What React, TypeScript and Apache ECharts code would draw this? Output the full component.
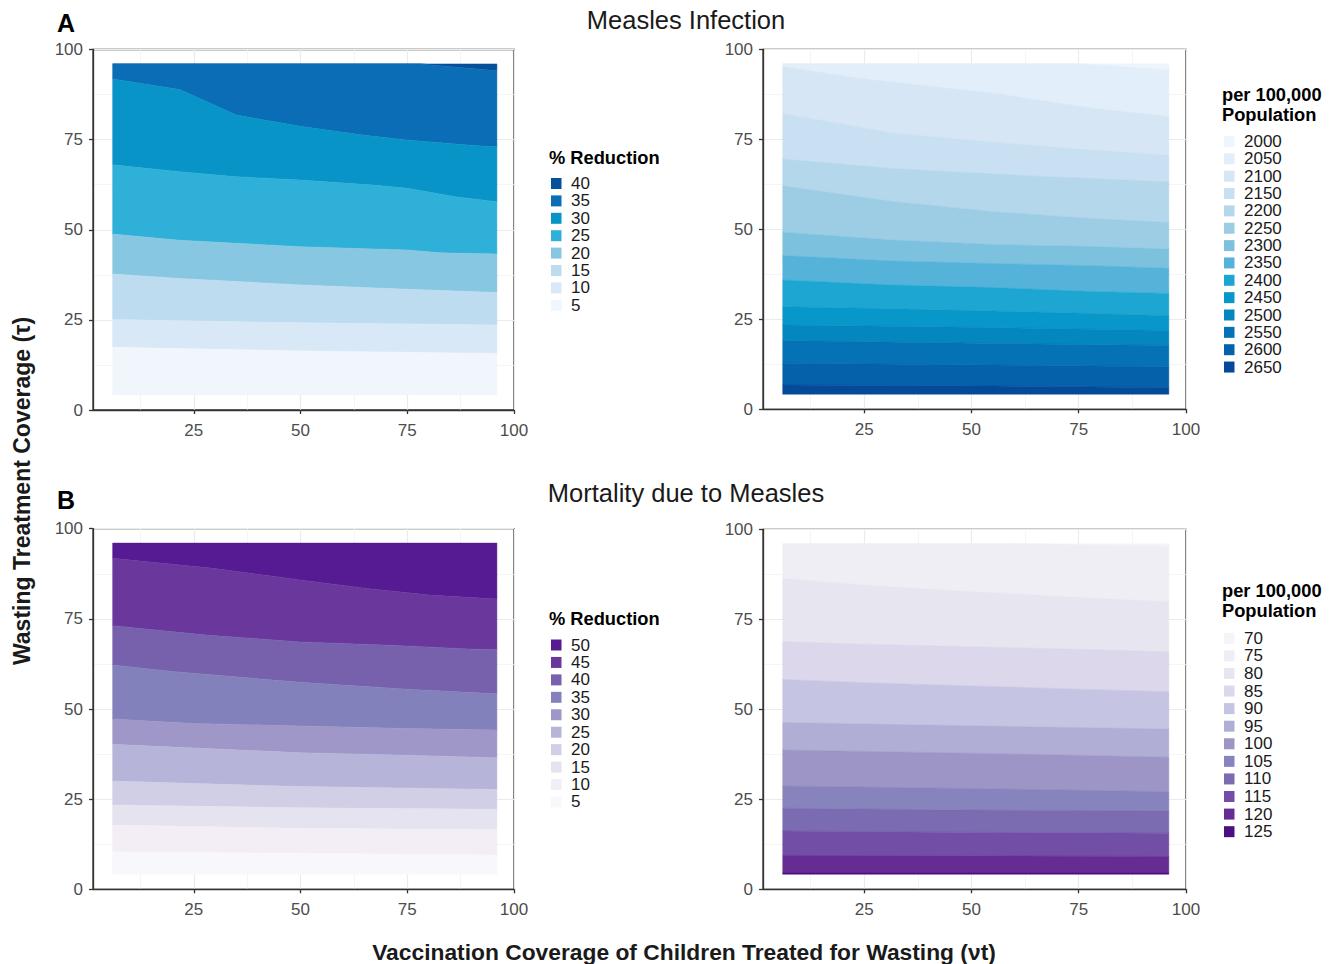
import React, { useEffect, useRef } from 'react';
import * as echarts from 'echarts';

type Pt = [number, number];

const FONT = '"Liberation Sans", Arial, Helvetica, sans-serif';

// Axis ticks
const X_TICKS = [25, 50, 75, 100];
const X_MINOR_TICKS = [12.5, 37.5, 62.5, 87.5];
const Y_TICK_INTERVAL = 25;
const X_MIN = 1.4;
const X_MAX = 100;
const Y_MIN = 0;
const Y_MAX = 100;
// lowest simulated wasting treatment coverage (bottom edge of every contour map)
const FLOOR_LINE: Pt[] = [[6, 4.2], [96, 4.2]];

// ---- Panel A (left): % reduction of measles infection ----
const infectionReductionLevels = ['40', '35', '30', '25', '20', '15', '10', '5'];
const infectionReductionColors = ['#064f9b', '#0a6db5', '#0994c7', '#2eb0d8', '#88c7e1', '#bddcf0', '#d9e8f6', '#f0f6fc'];
// contour boundaries, top first (upper edge of each band)
const infectionReductionBounds: Pt[][] = [
  [[6, 96], [96, 96]],
  [[6, 96], [78, 96], [96, 94.1]],
  [[6, 91.8], [21.7, 88.9], [35, 81.8], [50, 78.7], [65, 76.2], [75, 74.9], [90.5, 73.4], [96, 73.0]],
  [[6, 68.0], [21.7, 66.1], [35, 64.7], [50, 63.8], [67, 62.4], [75, 61.5], [86.6, 59.1], [96, 57.8]],
  [[6, 48.8], [21.7, 47.1], [50, 45.3], [75, 44.4], [82.7, 43.6], [96, 43.3]],
  [[6, 37.7], [21.7, 36.5], [50, 34.7], [75, 33.5], [96, 32.6]],
  [[6, 25.1], [50, 24.2], [96, 23.6]],
  [[6, 17.4], [50, 16.4], [96, 15.7]],
];

// ---- Panel A (right): measles infection per 100,000 ----
const infectionRateLevels = ['2000', '2050', '2100', '2150', '2200', '2250', '2300', '2350', '2400', '2450', '2500', '2550', '2600', '2650'];
const infectionRateColors = ['#eef5fc', '#e2eef9', '#d6e6f5', '#c8e0f1', '#b4d7ec', '#9dcde5', '#7cc2df', '#55b3da', '#1ea6d2', '#0797c9', '#0486be', '#0572b6', '#0461aa', '#044a98'];
const infectionRateBounds: Pt[][] = [
  [[6, 96], [96, 96]],
  [[6, 96], [74.6, 96], [96, 94.3]],
  [[6, 95.2], [24, 91.9], [55.1, 87.8], [78.4, 83.6], [96, 81.3]],
  [[6, 82.2], [31.8, 76.7], [55.1, 74.2], [78.4, 72.0], [96, 70.6]],
  [[6, 69.5], [31.8, 66.9], [62.9, 64.9], [96, 63.2]],
  [[6, 62.1], [31.8, 57.7], [55.1, 54.9], [78.4, 53.0], [96, 51.9]],
  [[6, 49.2], [31.8, 47.0], [55.1, 45.8], [78.4, 45.2], [96, 44.5]],
  [[6, 42.7], [31.8, 41.2], [55.1, 40.5], [78.4, 39.9], [96, 39.2]],
  [[6, 35.9], [31.8, 34.5], [55.1, 33.8], [78.4, 32.7], [96, 32.2]],
  [[6, 28.5], [31.8, 27.9], [55.1, 27.3], [78.4, 26.6], [96, 26.0]],
  [[6, 23.4], [55.1, 22.7], [96, 21.9]],
  [[6, 19.1], [55.1, 18.3], [96, 17.7]],
  [[6, 12.8], [55.1, 12.3], [96, 11.8]],
  [[6, 6.75], [55.1, 6.5], [96, 6.0]],
];

// ---- Panel B (left): % reduction of measles mortality ----
const mortalityReductionLevels = ['50', '45', '40', '35', '30', '25', '20', '15', '10', '5'];
const mortalityReductionColors = ['#561b92', '#6a389d', '#7761ad', '#8381bb', '#9e97c7', '#b6b4d9', '#d0cfe6', '#e5e3ef', '#f3eef5', '#f8f7fb'];
const mortalityReductionBounds: Pt[][] = [
  [[6, 96], [96, 96]],
  [[6, 91.8], [29.5, 89.0], [50, 85.8], [65, 83.5], [80.3, 81.6], [96, 80.5]],
  [[6, 73.1], [28, 70.5], [50, 68.6], [71, 67.7], [90.5, 66.6], [96, 66.5]],
  [[6, 62.2], [20, 60.4], [50, 57.4], [75, 55.5], [96, 54.2]],
  [[6, 47.2], [25, 46.0], [50, 45.3], [75, 44.6], [96, 44.2]],
  [[6, 40.2], [50, 37.9], [75, 37.2], [96, 36.5]],
  [[6, 30.0], [50, 28.5], [96, 27.7]],
  [[6, 23.4], [50, 22.6], [96, 22.2]],
  [[6, 17.8], [50, 16.9], [96, 16.5]],
  [[6, 10.4], [50, 10.0], [96, 9.5]],
];

// ---- Panel B (right): measles mortality per 100,000 ----
const mortalityRateLevels = ['70', '75', '80', '85', '90', '95', '100', '105', '110', '115', '120', '125'];
const mortalityRateColors = ['#f5f4f9', '#efeef5', '#e7e6f0', '#dcd7eb', '#c5c4e2', '#b0aed4', '#9c95c6', '#8783bd', '#7b6bb1', '#724ea6', '#652c93', '#4b0f82'];
const mortalityRateBounds: Pt[][] = [
  [[6, 96], [96, 96]],
  [[6, 96], [60, 96], [96, 95.3]],
  [[6, 86.4], [25, 84.5], [50, 82.7], [75, 81.1], [96, 79.9]],
  [[6, 68.8], [25, 68.1], [50, 67.4], [75, 66.7], [96, 66.0]],
  [[6, 58.3], [25, 57.4], [50, 56.5], [75, 55.6], [96, 54.9]],
  [[6, 46.3], [50, 45.4], [96, 44.5]],
  [[6, 38.7], [50, 37.8], [96, 36.7]],
  [[6, 28.7], [50, 28.0], [96, 27.1]],
  [[6, 22.5], [50, 22.0], [96, 21.8]],
  [[6, 16.2], [50, 15.8], [96, 15.6]],
  [[6, 9.4], [50, 9.3], [96, 9.1]],
  [[6, 4.5], [96, 4.5]],
];

const GRIDS = [
  { left: 93, top: 49.5, width: 421, height: 360.5 },
  { left: 763, top: 49.3, width: 423, height: 360 },
  { left: 93, top: 528.7, width: 421, height: 360.6 },
  { left: 763, top: 529.3, width: 423, height: 360 },
];

const PANELS = [
  { bounds: infectionReductionBounds, colors: infectionReductionColors },
  { bounds: infectionRateBounds, colors: infectionRateColors },
  { bounds: mortalityReductionBounds, colors: mortalityReductionColors },
  { bounds: mortalityRateBounds, colors: mortalityRateColors },
];

function txt(text: string, x: number, y: number, size: number, weight: string, align: string, color = '#1a1a1a', extra: any = {}) {
  return {
    type: 'text',
    x,
    y,
    silent: true,
    ...extra,
    style: {
      text,
      x: 0,
      y: 0,
      fill: color,
      font: `${weight} ${size}px ${FONT}`,
      align,
      verticalAlign: 'middle',
      textAlign: align,
      textVerticalAlign: 'middle',
    },
  };
}

function legend(titleLines: string[], titleYs: number[], levels: string[], colors: string[], left: number, firstY: number, step: number) {
  const els: any[] = [];
  titleLines.forEach((t, i) => els.push(txt(t, left, titleYs[i], 18.3, 'bold', 'left', '#000')));
  levels.forEach((lv, i) => {
    const cy = firstY + i * step;
    els.push({
      type: 'rect',
      silent: true,
      shape: { x: left + 2, y: cy - 5.5, width: 10.5, height: 11 },
      style: { fill: colors[i] },
    });
    els.push(txt(lv, left + 22, cy, 17, 'normal', 'left', '#1a1a1a'));
  });
  return els;
}

export default function App() {
  const ref = useRef<HTMLDivElement>(null);

  useEffect(() => {
    if (!ref.current) return;
    const chart = echarts.init(ref.current, null, { renderer: 'svg' });

    const axisColor = '#333333';
    const labelColor = '#4d4d4d';

    const xAxes: any[] = [];
    const yAxes: any[] = [];
    GRIDS.forEach((_, g) => {
      xAxes.push({
        type: 'value',
        gridIndex: g,
        min: X_MIN,
        max: X_MAX,
        position: 'bottom',
        axisLine: { show: true, onZero: false, lineStyle: { color: axisColor, width: 1.3 } },
        axisTick: { show: true, length: 4, customValues: X_TICKS, lineStyle: { color: axisColor, width: 1.3 } },
        axisLabel: { show: true, customValues: X_TICKS, color: labelColor, fontSize: 17, fontFamily: FONT, margin: 12 },
        splitLine: { show: true, lineStyle: { color: '#ebebeb', width: 1.2 } },
      });
      yAxes.push({
        type: 'value',
        gridIndex: g,
        min: Y_MIN,
        max: Y_MAX,
        interval: Y_TICK_INTERVAL,
        axisLine: { show: true, onZero: false, lineStyle: { color: axisColor, width: 1.3 } },
        axisTick: { show: true, length: 4, lineStyle: { color: axisColor, width: 1.3 } },
        axisLabel: { show: true, color: labelColor, fontSize: 17, fontFamily: FONT, margin: 10 },
        splitLine: { show: true, lineStyle: { color: '#ebebeb', width: 1.2 } },
        minorTick: { show: false, splitNumber: 2 },
        minorSplitLine: { show: true, lineStyle: { color: '#f2f2f2', width: 0.8 } },
      });
    });
    // invisible axes that only draw the minor vertical grid lines
    GRIDS.forEach((_, g) => {
      xAxes.push({
        type: 'value',
        gridIndex: g,
        min: X_MIN,
        max: X_MAX,
        position: 'bottom',
        axisLine: { show: false },
        axisTick: { show: false, customValues: X_MINOR_TICKS },
        axisLabel: { show: false },
        splitLine: { show: true, lineStyle: { color: '#f2f2f2', width: 0.8 } },
      });
    });

    // one filled-contour series per panel: each band is the polygon between its
    // upper boundary and the next boundary below (or the floor line)
    const series: any[] = PANELS.map((p, g) => ({
      type: 'custom',
      xAxisIndex: g,
      yAxisIndex: g,
      silent: true,
      z: 3,
      clip: true,
      data: p.bounds.map(() => [50, 50]),
      renderItem: (params: any, api: any) => {
        const i = params.dataIndex;
        const upper = p.bounds[i];
        const lower = i + 1 < p.bounds.length ? p.bounds[i + 1] : FLOOR_LINE;
        const pts = upper.map((pt) => api.coord(pt)).concat(lower.slice().reverse().map((pt) => api.coord(pt)));
        return {
          type: 'polygon',
          shape: { points: pts },
          style: { fill: p.colors[i], stroke: p.colors[i], lineWidth: 0.5 },
        };
      },
    }));

    const graphic: any[] = [
      txt('A', 57, 23, 25, 'bold', 'left', '#000'),
      txt('B', 57, 500, 25, 'bold', 'left', '#000'),
      txt('Measles Infection', 686, 20, 25.5, 'normal', 'center', '#1a1a1a'),
      txt('Mortality due to Measles', 686, 493, 25.5, 'normal', 'center', '#1a1a1a'),
      txt('Vaccination Coverage of Children Treated for Wasting (\u03bdt)', 684, 952, 22.8, 'bold', 'center', '#1a1a1a'),
      txt('Wasting Treatment Coverage (\u03c4)', 22, 491, 23, 'bold', 'center', '#1a1a1a', { rotation: Math.PI / 2 }),
      ...legend(['% Reduction'], [157], infectionReductionLevels, infectionReductionColors, 549, 183.5, 17.4),
      ...legend(['per 100,000', 'Population'], [94, 114], infectionRateLevels, infectionRateColors, 1222, 141.5, 17.35),
      ...legend(['% Reduction'], [618], mortalityReductionLevels, mortalityReductionColors, 549, 645, 17.44),
      ...legend(['per 100,000', 'Population'], [590, 610], mortalityRateLevels, mortalityRateColors, 1222, 638.3, 17.58),
    ];

    chart.setOption({
      animation: false,
      backgroundColor: '#ffffff',
      grid: GRIDS.map((g) => ({ ...g, show: true, borderColor: axisColor, borderWidth: 1.3, backgroundColor: '#ffffff', containLabel: false })),
      xAxis: xAxes,
      yAxis: yAxes,
      series,
      graphic,
    });

    return () => {
      chart.dispose();
    };
  }, []);

  return <div ref={ref} style={{ position: 'absolute', left: 0, top: 0, width: 1341, height: 964 }} />;
}
